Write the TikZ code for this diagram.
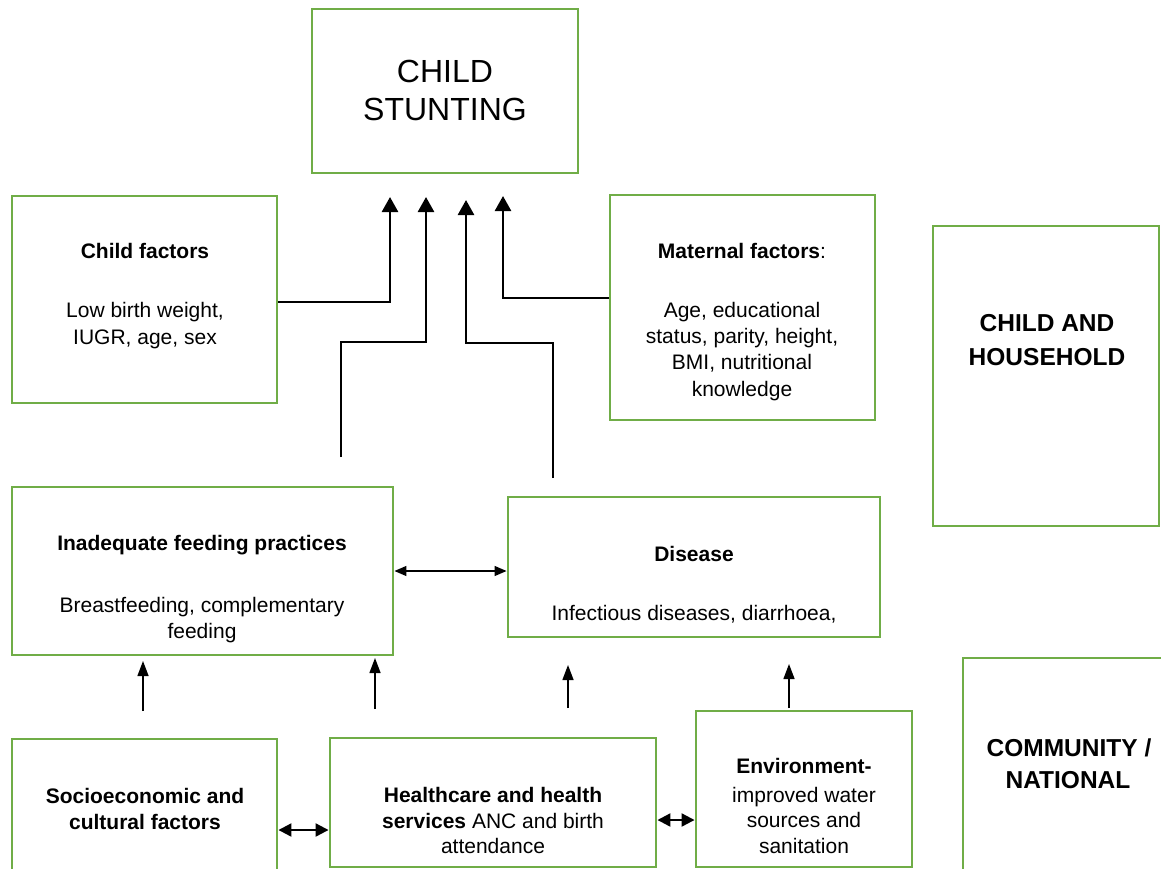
\documentclass[tikz,border=0pt]{standalone}
\usepackage{fontspec}
\setmainfont{Liberation Sans}
\usetikzlibrary{arrows.meta,calc}
\definecolor{boxgreen}{RGB}{112,173,71}
\begin{document}
\begin{tikzpicture}[x=1pt,y=-1pt,
  box/.style={draw=boxgreen,line width=2.9pt,rectangle,inner sep=0pt},
  txt/.style={inner sep=0pt,anchor=base,font=\fontsize{21}{26}\selectfont},
  big/.style={inner sep=0pt,anchor=base,font=\fontsize{32}{38}\selectfont},
  lbl/.style={inner sep=0pt,anchor=base,font=\fontsize{24.5}{32}\selectfont\bfseries},
  conn/.style={line width=2.6pt,-{Triangle[width=16pt,length=15pt]}},
  upar/.style={line width=1.4pt,-{Triangle[width=11pt,length=15pt]}},
  dbl/.style={line width=2.2pt,{Triangle[width=13pt,length=13pt]}-{Triangle[width=13pt,length=13pt]}},
  dblthin/.style={line width=1.3pt,{Triangle[width=10pt,length=12pt]}-{Triangle[width=10pt,length=12pt]}}]
\useasboundingbox (0,0) rectangle (1161,869);
\clip (0,0) rectangle (1161,869);
\fill[white] (0,0) rectangle (1161,869);

% boxes
\node[box,minimum width=266pt,minimum height=164pt] (stunt) at (445,91) {};
\node[box,minimum width=265pt,minimum height=207pt] (child) at (144.5,299.5) {};
\node[box,minimum width=265pt,minimum height=225pt] (mat) at (742.5,307.5) {};
\node[box,minimum width=226pt,minimum height=300pt] (hh) at (1046,376) {};
\node[box,minimum width=381pt,minimum height=168pt] (feed) at (202.5,571) {};
\node[box,minimum width=372pt,minimum height=140pt] (dis) at (694,567) {};
\node[box,minimum width=212pt,minimum height=242pt] (comm) at (1069,779) {};
\node[box,minimum width=265pt,minimum height=161pt] (socio) at (144.5,819.5) {};
\node[box,minimum width=326pt,minimum height=129pt] (health) at (493,802.5) {};
\node[box,minimum width=216pt,minimum height=156pt] (env) at (804,789) {};

% texts
\node[big] (st1) at (445,83) {CHILD};
\node[big] (st2) at (445,121) {STUNTING};

\node[txt] (cf1) at (145,258) {\bfseries Child factors};
\node[txt] (cf2) at (145,317) {Low birth weight,};
\node[txt] (cf3) at (145,344) {IUGR, age, sex};

\node[txt] (mf1) at (742,258) {\textbf{Maternal factors}:};
\node[txt] (mf2) at (742,317) {Age, educational};
\node[txt] (mf3) at (742,343) {status, parity, height,};
\node[txt] (mf4) at (742,369) {BMI, nutritional};
\node[txt] (mf5) at (742,396) {knowledge};

\node[lbl] (hh1) at (1047,331) {CHILD AND};
\node[lbl] (hh2) at (1047,365) {HOUSEHOLD};

\node[txt] (fp1) at (202,550) {\bfseries Inadequate feeding practices};
\node[txt] (fp2) at (202,612) {Breastfeeding, complementary};
\node[txt] (fp3) at (202,638) {feeding};

\node[txt] (ds1) at (694,561) {\bfseries Disease};
\node[txt] (ds2) at (694,620) {Infectious diseases, diarrhoea,};

\node[lbl] (cn1) at (1069,756) {COMMUNITY /};
\node[lbl] (cn2) at (1068,788) {NATIONAL};

\node[txt] (se1) at (145,803) {\bfseries Socioeconomic and};
\node[txt] (se2) at (145,829) {\bfseries cultural factors};

\node[txt] (hc1) at (493,802) {\bfseries Healthcare and health};
\node[txt] (hc2) at (493,828) {\textbf{services} ANC and birth};
\node[txt] (hc3) at (493,853) {attendance};

\node[txt] (ev1) at (804,773) {\bfseries Environment-};
\node[txt] (ev2) at (804,802) {improved water};
\node[txt] (ev3) at (804,827) {sources and};
\node[txt] (ev4) at (804,853) {sanitation};

% connector end points
\coordinate (t1) at (390,197);
\coordinate (t2) at (426,197);
\coordinate (t3) at (466,200);
\coordinate (t4) at (503,196);
\coordinate (b2) at (341,457);
\coordinate (b3) at (553,478);

\draw[conn] ($(child.east)+(0,2.5)$) -| (t1);
\draw[conn] (b2) -- ++(0,-115) -| (t2);
\draw[conn] (b3) -- ++(0,-135) -| (t3);
\draw[conn] ($(mat.west)+(0,-9.5)$) -| (t4);

\draw[dblthin] (feed.east) -- (feed.east -| dis.west);

\coordinate (u1s) at (143,711); \coordinate (u1e) at (143,661);
\coordinate (u2s) at (375,709); \coordinate (u2e) at (375,658);
\coordinate (u3s) at (568,708); \coordinate (u3e) at (568,665);
\coordinate (u4s) at (789,708); \coordinate (u4e) at (789,664);
\draw[upar] (u1s) -- (u1e);
\draw[upar] (u2s) -- (u2e);
\draw[upar] (u3s) -- (u3e);
\draw[upar] (u4s) -- (u4e);

\draw[dbl] ($(socio.east)+(0,10.5)$) -- ($(socio.east -| health.west)+(0,10.5)$);
\draw[dbl] ($(health.east)+(0,17.5)$) -- ($(health.east -| env.west)+(0,17.5)$);
\end{tikzpicture}
\end{document}
